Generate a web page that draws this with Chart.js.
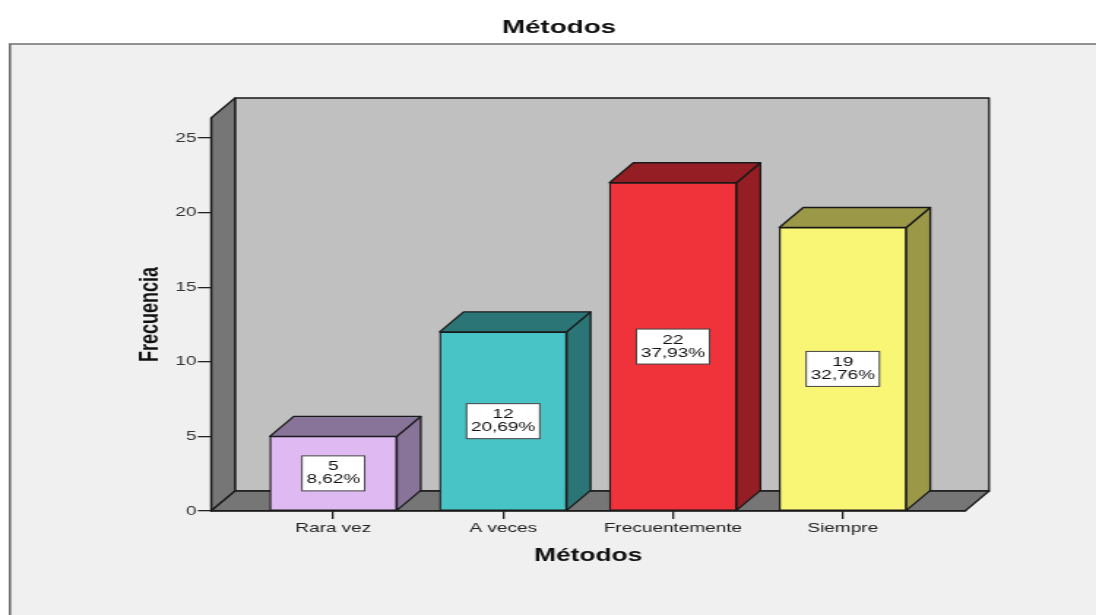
<!DOCTYPE html>
<html>
<head>
<meta charset="utf-8">
<script src="https://cdn.jsdelivr.net/npm/chart.js@4/dist/chart.umd.min.js"></script>
<style>
  html, body { margin: 0; padding: 0; background: #ffffff; overflow: hidden; }
  #wrap { width: 750px; height: 615px; transform: scaleX(1.461333); transform-origin: 0 0; }
  canvas { display: block; }
</style>
</head>
<body>
<div id="wrap"><canvas id="c" width="750" height="615"></canvas></div>
<script>
// ---- data ----
const chartTitle = 'Métodos';
const xTitle = 'Métodos';
const yTitle = 'Frecuencia';
const categories = ['Rara vez', 'A veces', 'Frecuentemente', 'Siempre'];
const counts = [5, 12, 22, 19];
const percents = ['8,62%', '20,69%', '37,93%', '32,76%'];
const yTicks = [0, 5, 10, 15, 20, 25];

// ---- style ----
const frontColors = ['#dfb9f1', '#48c3c6', '#f0323a', '#f9f575'];
const sideColors  = ['#887399', '#2c7576', '#941e23', '#9b9848'];
const FONT = 'Arial, "Liberation Sans", sans-serif';
const DX = 16.4, DY = -20;
const EDGE = '#1a1a1a';

function poly(ctx, pts, fill) {
  ctx.beginPath();
  ctx.moveTo(pts[0][0], pts[0][1]);
  for (let i = 1; i < pts.length; i++) ctx.lineTo(pts[i][0], pts[i][1]);
  ctx.closePath();
  ctx.fillStyle = fill;
  ctx.fill();
  ctx.lineWidth = 1.3;
  ctx.strokeStyle = EDGE;
  ctx.lineJoin = 'round';
  ctx.stroke();
}

const threeD = {
  id: 'threeD',
  beforeDraw(chart) {
    const ctx = chart.ctx;
    const a = chart.chartArea;
    const y0 = chart.scales.y.getPixelForValue(0);
    ctx.save();
    // frame
    ctx.fillStyle = '#f0f0f0';
    ctx.fillRect(6.8, 44, 760, 600);
    ctx.strokeStyle = '#707070';
    ctx.lineWidth = 1.6;
    ctx.beginPath();
    ctx.moveTo(6.8, 640); ctx.lineTo(6.8, 44); ctx.lineTo(760, 44);
    ctx.stroke();
    // title
    ctx.fillStyle = '#111';
    ctx.font = 'bold 19px ' + FONT;
    ctx.textAlign = 'center';
    ctx.textBaseline = 'middle';
    ctx.fillText(chartTitle, 382.5, 28);
    // back wall
    poly(ctx, [[a.left + DX, a.top + DY], [a.right + DX, a.top + DY], [a.right + DX, y0 + DY], [a.left + DX, y0 + DY]], '#c0c0c0');
    // left wall
    poly(ctx, [[a.left, y0], [a.left, a.top], [a.left + DX, a.top + DY], [a.left + DX, y0 + DY]], '#767676');
    // floor
    poly(ctx, [[a.left, y0], [a.left + DX, y0 + DY], [a.right + DX, y0 + DY], [a.right, y0]], '#767676');
    ctx.restore();
  },
  beforeDatasetsDraw(chart) {
    const ctx = chart.ctx;
    const meta = chart.getDatasetMeta(0);
    ctx.save();
    meta.data.forEach((bar, i) => {
      const p = bar.getProps(['x', 'y', 'base', 'width'], true);
      const l = p.x - p.width / 2, r = p.x + p.width / 2;
      // side
      poly(ctx, [[r, p.y], [r + DX, p.y + DY], [r + DX, p.base + DY], [r, p.base]], sideColors[i]);
      // top
      poly(ctx, [[l, p.y], [l + DX, p.y + DY], [r + DX, p.y + DY], [r, p.y]], sideColors[i]);
    });
    ctx.restore();
  },
  afterDatasetsDraw(chart) {
    const ctx = chart.ctx;
    const meta = chart.getDatasetMeta(0);
    ctx.save();
    ctx.font = '13px ' + FONT;
    ctx.textAlign = 'center';
    ctx.textBaseline = 'middle';
    meta.data.forEach((bar, i) => {
      const p = bar.getProps(['x', 'y', 'base'], true);
      const cy = (p.y + p.base) / 2;
      const l1 = String(counts[i]), l2 = percents[i];
      const w = Math.max(ctx.measureText(l1).width, ctx.measureText(l2).width) + 6;
      const h = 35;
      ctx.fillStyle = '#ffffff';
      ctx.fillRect(p.x - w / 2, cy - h / 2, w, h);
      ctx.strokeStyle = '#444';
      ctx.lineWidth = 1;
      ctx.strokeRect(p.x - w / 2, cy - h / 2, w, h);
      ctx.fillStyle = '#111';
      ctx.fillText(l1, p.x, cy - 6.5);
      ctx.fillText(l2, p.x, cy + 6.5);
    });
    ctx.restore();
  }
};

new Chart(document.getElementById('c'), {
  type: 'bar',
  data: {
    datasets: [{
      data: counts.map((v, i) => ({ x: i, y: v })),
      backgroundColor: frontColors,
      borderColor: EDGE,
      borderWidth: 1.3,
      borderSkipped: false,
      barThickness: 86.9
    }]
  },
  options: {
    responsive: false,
    animation: false,
    events: [],
    layout: { padding: { left: 0, right: 89.6, top: 118, bottom: 0 } },
    plugins: { legend: { display: false }, tooltip: { enabled: false }, title: { display: false } },
    scales: {
      x: {
        type: 'linear',
        min: -0.72,
        max: 3.72,
        offset: false,
        afterBuildTicks: s => { s.ticks = categories.map((c, i) => ({ value: i })); },
        afterFit: s => { s.height = 104; },
        grid: { offset: false, drawOnChartArea: false, drawTicks: true, tickLength: 8, color: '#222', lineWidth: 1.3 },
        border: { display: true, color: EDGE, width: 1.3 },
        ticks: {
          callback: v => categories[v],
          font: { family: FONT, size: 13 },
          color: '#222',
          padding: 2,
          maxRotation: 0,
          autoSkip: false
        },
        title: {
          display: true, text: xTitle, color: '#111',
          font: { family: FONT, size: 18, weight: 'bold' },
          padding: { top: 0, bottom: 48 }
        }
      },
      y: {
        min: 0,
        max: 26.34,
        afterBuildTicks: s => { s.ticks = yTicks.map(v => ({ value: v })); },
        afterFit: s => { s.width = 144.4; },
        grid: { drawOnChartArea: false, drawTicks: true, tickLength: 9, color: '#222', lineWidth: 1.3 },
        border: { display: true, color: EDGE, width: 1.3 },
        ticks: {
          font: { family: FONT, size: 13 },
          color: '#333',
          padding: 1
        },
        title: {
          display: true, text: yTitle, color: '#111',
          font: { family: FONT, size: 18, weight: 'bold' },
          padding: { top: 92, bottom: 0 }
        }
      }
    }
  },
  plugins: [threeD]
});
</script>
</body>
</html>
